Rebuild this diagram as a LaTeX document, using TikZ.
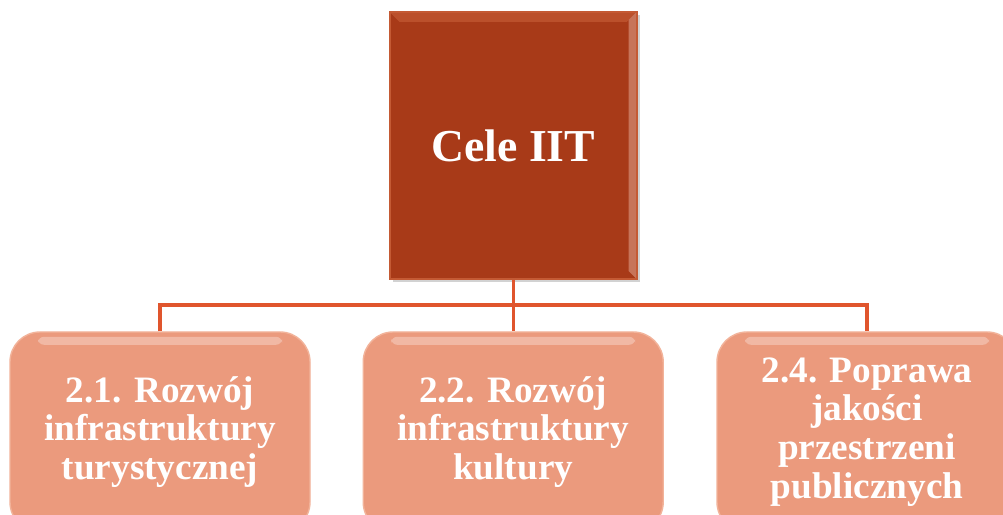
\documentclass[tikz,border=0pt]{standalone}
\usepackage{fontspec}
\setmainfont{Liberation Serif}
\usetikzlibrary{shadows}
\frenchspacing

\definecolor{celeFill}{HTML}{A83A18}
\definecolor{celeEdge}{HTML}{C45A34}
\definecolor{goalFill}{HTML}{EB9A7D}
\definecolor{goalEdge}{HTML}{F2B39A}
\definecolor{linkColor}{HTML}{E0552D}

\begin{document}
\begin{tikzpicture}[
    link/.style={draw=linkColor, line width=2.4pt},
    topbox/.style={fill=celeFill, draw=celeEdge, line width=1.2pt,
        minimum width=6.175cm, minimum height=6.675cm,
        text=white, font=\fontsize{32.5}{34}\selectfont\bfseries,
        drop shadow={opacity=0.35, shadow xshift=0.07cm, shadow yshift=-0.07cm},
        path picture={
            % bevel on the top and right edges
            \fill[celeEdge, opacity=0.7]
                (path picture bounding box.north west)
                -- (path picture bounding box.north east)
                -- ([xshift=-0.25cm, yshift=-0.25cm]path picture bounding box.north east)
                -- ([xshift=0.25cm, yshift=-0.25cm]path picture bounding box.north west) -- cycle;
            \fill[celeEdge!60!white, opacity=0.6]
                (path picture bounding box.north east)
                -- (path picture bounding box.south east)
                -- ([xshift=-0.2cm, yshift=0.2cm]path picture bounding box.south east)
                -- ([xshift=-0.2cm, yshift=-0.2cm]path picture bounding box.north east) -- cycle;
        }},
    goalbox/.style={fill=goalFill, draw=goalEdge, line width=1pt,
        rounded corners=0.75cm,
        minimum width=7.5cm, minimum height=5cm, text width=7.2cm,
        align=center, text=white,
        font=\fontsize{26.5}{27.5}\selectfont\bfseries,
        path picture={
            \fill[white, opacity=0.3, rounded corners=0.15cm]
                ([xshift=0.7cm, yshift=-0.12cm]path picture bounding box.north west)
                rectangle ([xshift=-0.7cm, yshift=-0.32cm]path picture bounding box.north east);
        }}
]

% picture frame
\clip (0,0) rectangle (25.075,12.875);
\fill[white] (0,0) rectangle (25.075,12.875);

% goal at the top
\node[topbox] (cele) at (12.83, 9.2375) {Cele IIT};

% the three sub-goals
\node[goalbox] (goal1) at (4.0, 2.075) {2.1. Rozwój\\infrastruktury\\turystycznej};
\node[goalbox] (goal2) at (12.83, 2.075) {2.2. Rozwój\\infrastruktury\\kultury};
\node[goalbox] (goal3) at (21.675, 2.075) {2.4. Poprawa\\jakości\\przestrzeni\\publicznych};

% connectors
\coordinate (bus) at (12.83, 5.25);
\draw[link] (cele.south) -- (bus);
\draw[link] (goal1.north) |- (bus) -| (goal3.north);
\draw[link] (bus) -- (goal2.north);

\end{tikzpicture}
\end{document}
